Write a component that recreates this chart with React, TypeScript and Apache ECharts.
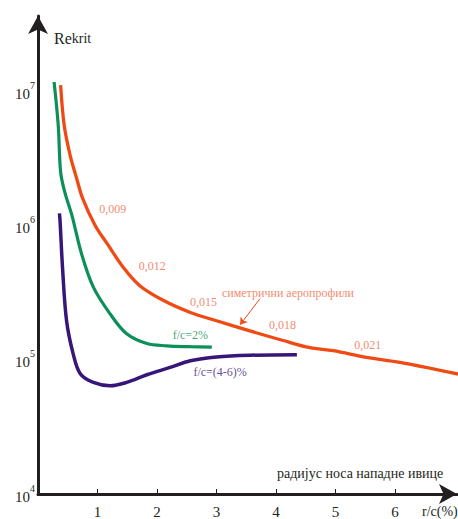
import React, { useEffect, useRef } from "react";
import * as echarts from "echarts";

// r/c (%) vs critical Reynolds number, symmetric aerofoils
const symmetricProfiles: [number, number][] = [
  [0.38, 1.11e7], [0.44, 5.57e6], [0.54, 3.33e6], [0.65, 2.24e6], [0.75, 1.59e6],
  [0.96, 1.0e6], [1.16, 7.35e5], [1.43, 4.89e5], [1.71, 3.56e5], [2.11, 2.76e5],
  [2.56, 2.25e5], [3.0, 1.95e5], [3.56, 1.64e5], [4.12, 1.39e5], [4.57, 1.23e5],
  [4.96, 1.17e5], [5.52, 1.04e5], [6.08, 9.55e4], [7.06, 7.82e4],
];

// cambered aerofoils, f/c = 2%
const camber2: [number, number][] = [
  [0.27, 1.17e7], [0.34, 5.57e6], [0.38, 2.5e6], [0.45, 1.77e6], [0.57, 1.19e6],
  [0.73, 6.18e5], [0.93, 3.47e5], [1.21, 2.2e5], [1.49, 1.56e5], [1.83, 1.32e5],
  [2.16, 1.27e5], [2.56, 1.25e5], [2.92, 1.24e5],
];

// cambered aerofoils, f/c = 4–6%
const camber46: [number, number][] = [
  [0.36, 1.23e6], [0.37, 1.09e6], [0.415, 4.61e5], [0.48, 1.95e5], [0.59, 1.11e5],
  [0.71, 7.87e4], [0.93, 6.78e4], [1.21, 6.4e4], [1.49, 6.78e4], [1.83, 7.73e4],
  [2.22, 8.77e4], [2.56, 9.84e4], [3.0, 1.05e5], [3.56, 1.08e5], [4.35, 1.09e5],
];

// relative thickness marks along the symmetric curve
const thicknessLabels = ["0,009", "0,012", "0,015", "0,018", "0,021"];
const thicknessPositions: [number, number][] = [
  [1.255, 1.33e6], [1.92, 5.03e5], [2.78, 2.68e5], [4.11, 1.82e5], [5.54, 1.29e5],
];

const seriesNames = ["симетрични аеропрофили", "f/c=2%", "f/c=(4-6)%"];
const seriesNamePositions: [number, number][] = [
  [4.2, 3.16e5], [2.56, 1.54e5], [3.06, 8.13e4],
];
const pointerFrom: [number, number] = [3.73, 2.85e5];
const pointerTo: [number, number] = [3.395, 1.82e5];

const xTicks = [1, 2, 3, 4, 5, 6];
const yMin = 1e4;
const yMax = Math.pow(10, 7.56);
const xMax = 7.04;

const RED = "#f04a14";
const RED_TEXT = "#f26a45";
const GREEN = "#0a9058";
const PURPLE = "#37167a";
const AXIS = "#231f20";
const SERIF = "Liberation Serif";

export default function App() {
  const ref = useRef<HTMLDivElement>(null);

  useEffect(() => {
    if (!ref.current) return;
    const chart = echarts.init(ref.current, undefined, { renderer: "svg" });

    const textPoint = (pos: [number, number], name: string, color: string) => ({
      value: pos,
      name,
      label: { color },
    });

    chart.setOption({
      animation: false,
      backgroundColor: "#ffffff",
      textStyle: { fontFamily: SERIF },
      grid: { left: 38, right: 1, top: 16, bottom: 25, containLabel: false },
      xAxis: {
        type: "value",
        min: 0,
        max: xMax,
        interval: 1,
        axisLine: {
          show: true,
          symbol: ["none", "arrow"],
          symbolSize: [15, 18],
          lineStyle: { color: AXIS, width: 3 },
        },
        axisTick: {
          show: true,
          inside: true,
          length: 5,
          customValues: xTicks,
          lineStyle: { color: AXIS, width: 1 },
        },
        axisLabel: {
          customValues: xTicks,
          margin: 10,
          fontSize: 15,
          fontFamily: SERIF,
          color: AXIS,
        },
        splitLine: { show: false },
      },
      yAxis: {
        type: "log",
        logBase: 10,
        min: yMin,
        max: yMax,
        splitNumber: 4,
        axisLine: {
          show: true,
          symbol: ["none", "arrow"],
          symbolSize: [15, 18],
          lineStyle: { color: AXIS, width: 3 },
        },
        axisTick: { show: false },
        splitLine: { show: false },
        axisLabel: {
          showMaxLabel: false,
          margin: 3,
          fontFamily: SERIF,
          formatter: (v: number) => {
            const e = Math.log10(v);
            if (Math.abs(e - Math.round(e)) > 1e-6) return "";
            return `{b|10}{s|${Math.round(e)}}`;
          },
          rich: {
            b: { fontSize: 15, fontFamily: SERIF, color: AXIS, lineHeight: 28, verticalAlign: "bottom", padding: [0, 0, 4, 0] },
            s: { fontSize: 10, fontFamily: SERIF, color: AXIS, lineHeight: 28, verticalAlign: "top", padding: [3, 0, 0, 0] },
          },
        },
      },
      series: [
        {
          name: seriesNames[0],
          type: "line",
          data: symmetricProfiles,
          smooth: 0.35,
          symbol: "none",
          lineStyle: { color: RED, width: 3.3 },
          markLine: {
            silent: true,
            symbol: ["none", "arrow"],
            symbolSize: 7,
            label: { show: false },
            lineStyle: { color: RED, width: 1, type: "solid" },
            data: [[{ coord: pointerFrom }, { coord: pointerTo }]],
          },
        },
        {
          name: seriesNames[1],
          type: "line",
          data: camber2,
          smooth: 0.35,
          symbol: "none",
          lineStyle: { color: GREEN, width: 3.2 },
        },
        {
          name: seriesNames[2],
          type: "line",
          data: camber46,
          smooth: 0.35,
          symbol: "none",
          lineStyle: { color: PURPLE, width: 3.5 },
        },
        {
          type: "scatter",
          symbolSize: 0,
          silent: true,
          label: {
            show: true,
            position: "inside",
            formatter: "{b}",
            fontFamily: SERIF,
            fontSize: 12,
          },
          data: [
            ...thicknessLabels.map((t, i) => textPoint(thicknessPositions[i], t, RED_TEXT)),
            textPoint(seriesNamePositions[0], seriesNames[0], RED_TEXT),
            textPoint(seriesNamePositions[1], seriesNames[1], GREEN),
            textPoint(seriesNamePositions[2], seriesNames[2], PURPLE),
          ],
        },
      ],
      graphic: [
        {
          type: "text",
          left: 54,
          top: 30,
          style: {
            text: "{a|Re}{b|krit}",
            rich: {
              a: { fontSize: 16, fontFamily: SERIF, fill: AXIS },
              b: { fontSize: 14, fontFamily: SERIF, fill: AXIS },
            },
          },
        },
        {
          type: "text",
          left: 277,
          top: 466,
          style: { text: "радијус носа нападне ивице", fontSize: 14, fontFamily: SERIF, fill: AXIS },
        },
        {
          type: "text",
          left: 422,
          top: 504,
          style: { text: "r/c(%)", fontSize: 14, fontFamily: SERIF, fill: AXIS },
        },
      ],
    });

    return () => chart.dispose();
  }, []);

  return (
    <div
      ref={ref}
      style={{ position: "fixed", left: 0, top: 0, width: 458, height: 519 }}
    />
  );
}
